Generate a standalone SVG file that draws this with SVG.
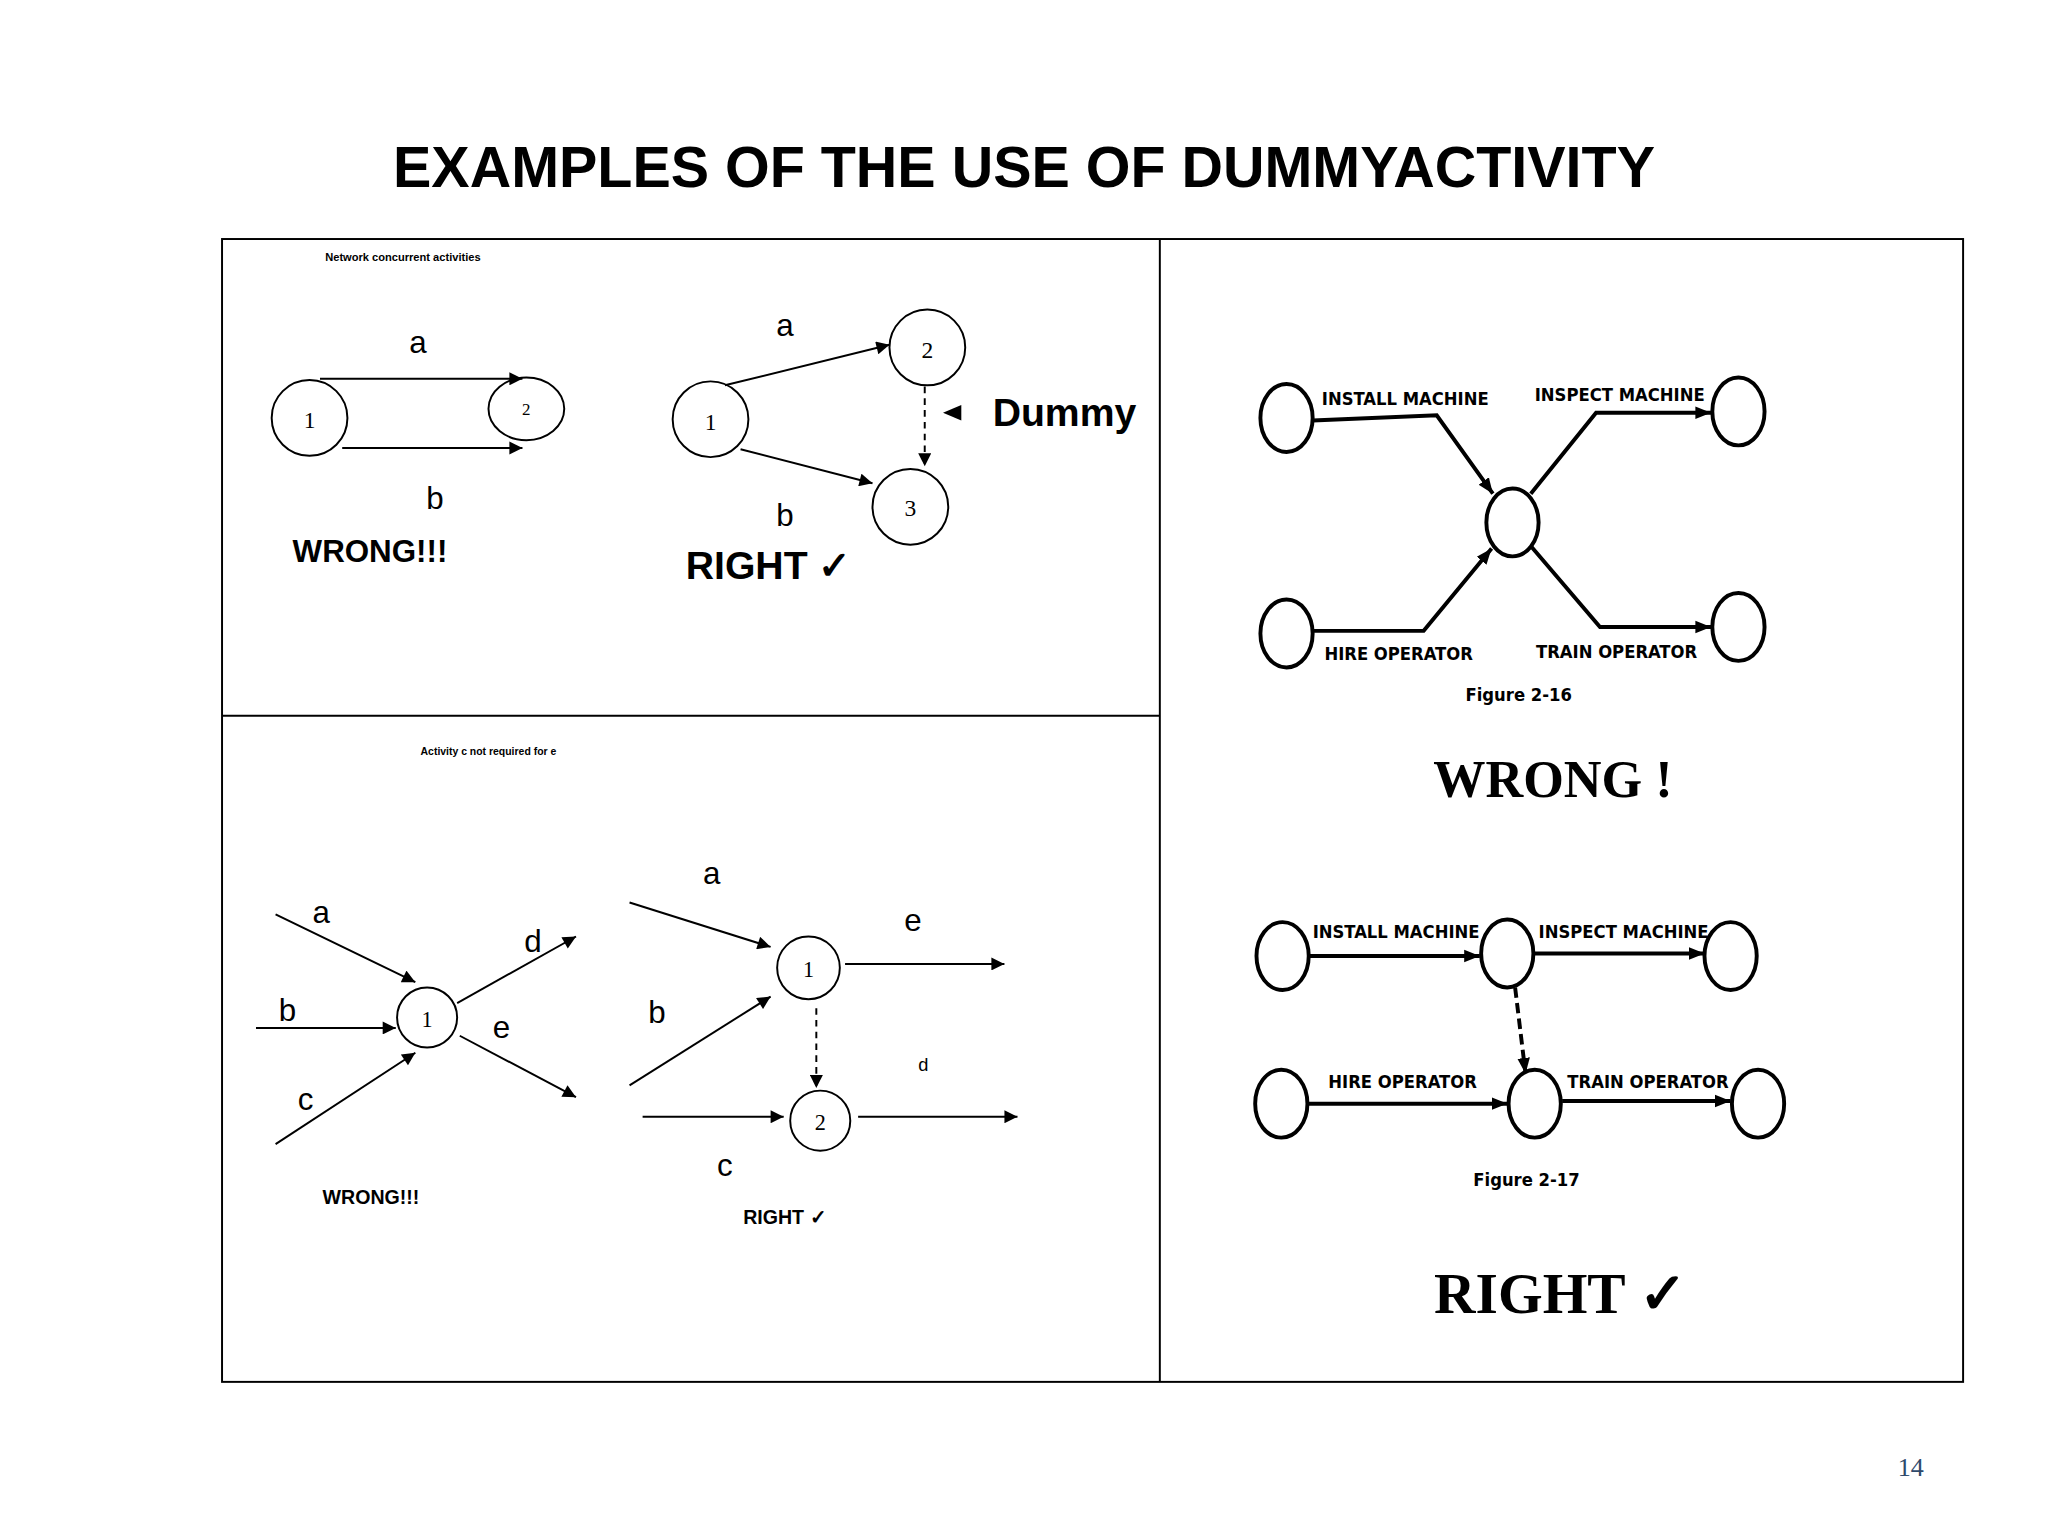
<svg xmlns="http://www.w3.org/2000/svg" width="2048" height="1536" viewBox="0 0 2048 1536">
<style>
.s{font-family:"Liberation Sans",Arial,sans-serif}
.b{font-weight:bold}
.l{stroke:#000;stroke-width:1.5;fill:none}
.n{stroke:#000;stroke-width:1.5;fill:#fff}
.f{font-family:"Liberation Serif","Times New Roman",serif}
.k{stroke:#000;stroke-width:3;fill:#fff}
.kl{stroke:#000;stroke-width:3;fill:none}
.c{font-family:"DejaVu Sans Condensed","DejaVu Sans",sans-serif;font-weight:bold;font-size:14px}
</style>
<defs>
<marker id="ar" viewBox="0 0 10 10" refX="10" refY="5" markerWidth="11" markerHeight="10" markerUnits="userSpaceOnUse" orient="auto"><path d="M0,0L10,5L0,10z"/></marker>
<marker id="ar2" viewBox="0 0 10 10" refX="10" refY="5" markerWidth="4" markerHeight="4" orient="auto"><path d="M0,1L10,5L0,9z"/></marker>
</defs>
<rect width="2048" height="1536" fill="#fff"/>
<g transform="scale(1.30612)">
<text x="784" y="143" text-anchor="middle" class="s b" font-size="44">EXAMPLES OF THE USE OF DUMMYACTIVITY</text>
<g id="frame" fill="none" stroke="#000" stroke-width="1.5">
<rect x="170" y="183" width="1333" height="875"/>
<line x1="888" y1="183" x2="888" y2="1058"/>
<line x1="170" y1="548" x2="888" y2="548"/>
</g>
<text x="249" y="200" class="s b" font-size="8.5">Network concurrent activities</text>
<g id="p1w">
<circle class="n" cx="237" cy="320" r="29"/><text x="237" y="328" text-anchor="middle" class="f" font-size="18">1</text>
<ellipse class="n" cx="403" cy="313" rx="29" ry="24"/><text x="403" y="318" text-anchor="middle" class="f" font-size="13">2</text>
</g>
<g id="p1r">
<circle class="n" cx="544" cy="321" r="29"/><text x="544" y="329" text-anchor="middle" class="f" font-size="18">1</text>
<circle class="n" cx="710" cy="266" r="29"/><text x="710" y="274" text-anchor="middle" class="f" font-size="18">2</text>
<circle class="n" cx="697" cy="388" r="29"/><text x="697" y="395" text-anchor="middle" class="f" font-size="18">3</text>
</g>
<g id="p2w"><circle class="n" cx="327" cy="779" r="23"/><text x="327" y="786" text-anchor="middle" class="f" font-size="17">1</text></g>
<g id="p2r">
<circle class="n" cx="619" cy="741" r="24"/><text x="619" y="748" text-anchor="middle" class="f" font-size="17">1</text>
<circle class="n" cx="628" cy="858" r="23"/><text x="628" y="865" text-anchor="middle" class="f" font-size="17">2</text>
</g>
<g id="connectors">
<line class="l" x1="245" y1="290" x2="400" y2="290" marker-end="url(#ar)"/>
<line class="l" x1="262" y1="343" x2="400" y2="343" marker-end="url(#ar)"/>
<line class="l" x1="555" y1="295" x2="681" y2="264" marker-end="url(#ar)"/>
<line class="l" x1="567" y1="344" x2="668" y2="370" marker-end="url(#ar)"/>
<line class="l" x1="708" y1="296" x2="708" y2="357" stroke-dasharray="5,4" marker-end="url(#ar)"/>
<line class="l" x1="211" y1="700" x2="318" y2="752" marker-end="url(#ar)"/>
<line class="l" x1="196" y1="787" x2="303" y2="787" marker-end="url(#ar)"/>
<line class="l" x1="211" y1="876" x2="318" y2="806" marker-end="url(#ar)"/>
<line class="l" x1="350" y1="768" x2="441" y2="717" marker-end="url(#ar)"/>
<line class="l" x1="352" y1="793" x2="441" y2="840" marker-end="url(#ar)"/>
<line class="l" x1="482" y1="691" x2="590" y2="725" marker-end="url(#ar)"/>
<line class="l" x1="482" y1="831" x2="590" y2="763" marker-end="url(#ar)"/>
<line class="l" x1="647" y1="738" x2="769" y2="738" marker-end="url(#ar)"/>
<line class="l" x1="625" y1="772" x2="625" y2="833" stroke-dasharray="5,4" marker-end="url(#ar)"/>
<line class="l" x1="492" y1="855" x2="600" y2="855" marker-end="url(#ar)"/>
<line class="l" x1="657" y1="855" x2="779" y2="855" marker-end="url(#ar)"/>
<polyline class="kl" points="1005,322 1100,318 1143,378" marker-end="url(#ar2)"/>
<polyline class="kl" points="1172,378 1222,316 1310,316" marker-end="url(#ar2)"/>
<polyline class="kl" points="1005,483 1090,483 1142,420" marker-end="url(#ar2)"/>
<polyline class="kl" points="1172,418 1225,480 1310,480" marker-end="url(#ar2)"/>
<line class="kl" x1="1002" y1="732" x2="1133" y2="732" marker-end="url(#ar2)"/>
<line class="kl" x1="1175" y1="730" x2="1305" y2="730" marker-end="url(#ar2)"/>
<line class="kl" x1="1001" y1="845" x2="1154" y2="845" marker-end="url(#ar2)"/>
<line class="kl" x1="1196" y1="843" x2="1325" y2="843" marker-end="url(#ar2)"/>
<line class="kl" x1="1160" y1="756" x2="1168" y2="822" stroke-dasharray="8,4" marker-end="url(#ar2)"/>
</g>
<g class="s" font-size="24">
<text x="320" y="270" text-anchor="middle">a</text>
<text x="333" y="390" text-anchor="middle">b</text>
<text x="601" y="257" text-anchor="middle">a</text>
<text x="601" y="403" text-anchor="middle">b</text>
<text x="246" y="707" text-anchor="middle">a</text>
<text x="220" y="782" text-anchor="middle">b</text>
<text x="234" y="850" text-anchor="middle">c</text>
<text x="408" y="729" text-anchor="middle">d</text>
<text x="384" y="795" text-anchor="middle">e</text>
<text x="545" y="677" text-anchor="middle">a</text>
<text x="503" y="783" text-anchor="middle">b</text>
<text x="699" y="713" text-anchor="middle">e</text>
<text x="555" y="900" text-anchor="middle">c</text>
<text x="707" y="820" text-anchor="middle" font-size="14">d</text>
</g>
<text x="224" y="430" class="s b" font-size="24">WRONG!!!</text>
<path d="M722,316L736,310L736,322z"/>
<text x="760" y="326" class="s b" font-size="30">Dummy</text>
<text x="525" y="443" class="s b" font-size="30">RIGHT ✓</text>
<text x="322" y="578" class="s b" font-size="8">Activity  c not required for e</text>
<text x="247" y="922" class="s b" font-size="15">WRONG!!!</text>
<text x="569" y="937" class="s b" font-size="15">RIGHT ✓</text>
<g id="fig16">
<ellipse class="k" cx="985" cy="320" rx="20" ry="26"/>
<ellipse class="k" cx="985" cy="485" rx="20" ry="26"/>
<ellipse class="k" cx="1158" cy="400" rx="20" ry="26"/>
<ellipse class="k" cx="1331" cy="315" rx="20" ry="26"/>
<ellipse class="k" cx="1331" cy="480" rx="20" ry="26"/>
<text x="1012" y="310" class="c">INSTALL MACHINE</text>
<text x="1175" y="307" class="c">INSPECT MACHINE</text>
<text x="1014" y="505" class="c">HIRE OPERATOR</text>
<text x="1176" y="504" class="c">TRAIN OPERATOR</text>
<text x="1122" y="537" class="c" font-size="15">Figure 2-16</text>
</g>
<text x="1189" y="610" text-anchor="middle" class="f b" font-size="40">WRONG !</text>
<g id="fig17">
<ellipse class="k" cx="982" cy="732" rx="20" ry="26"/>
<ellipse class="k" cx="1154" cy="730" rx="20" ry="26"/>
<ellipse class="k" cx="1325" cy="732" rx="20" ry="26"/>
<ellipse class="k" cx="981" cy="845" rx="20" ry="26"/>
<ellipse class="k" cx="1175" cy="845" rx="20" ry="26"/>
<ellipse class="k" cx="1346" cy="845" rx="20" ry="26"/>
<text x="1005" y="718" class="c">INSTALL MACHINE</text>
<text x="1178" y="718" class="c">INSPECT MACHINE</text>
<text x="1017" y="833" class="c">HIRE OPERATOR</text>
<text x="1200" y="833" class="c">TRAIN OPERATOR</text>
<text x="1128" y="908" class="c" font-size="15">Figure 2-17</text>
</g>
<text x="1098" y="1005" class="f b" font-size="44">RIGHT ✓</text>
<text x="1463" y="1130" text-anchor="middle" class="f" font-size="20" fill="#2f4a6b">14</text>
</g>
</svg>
